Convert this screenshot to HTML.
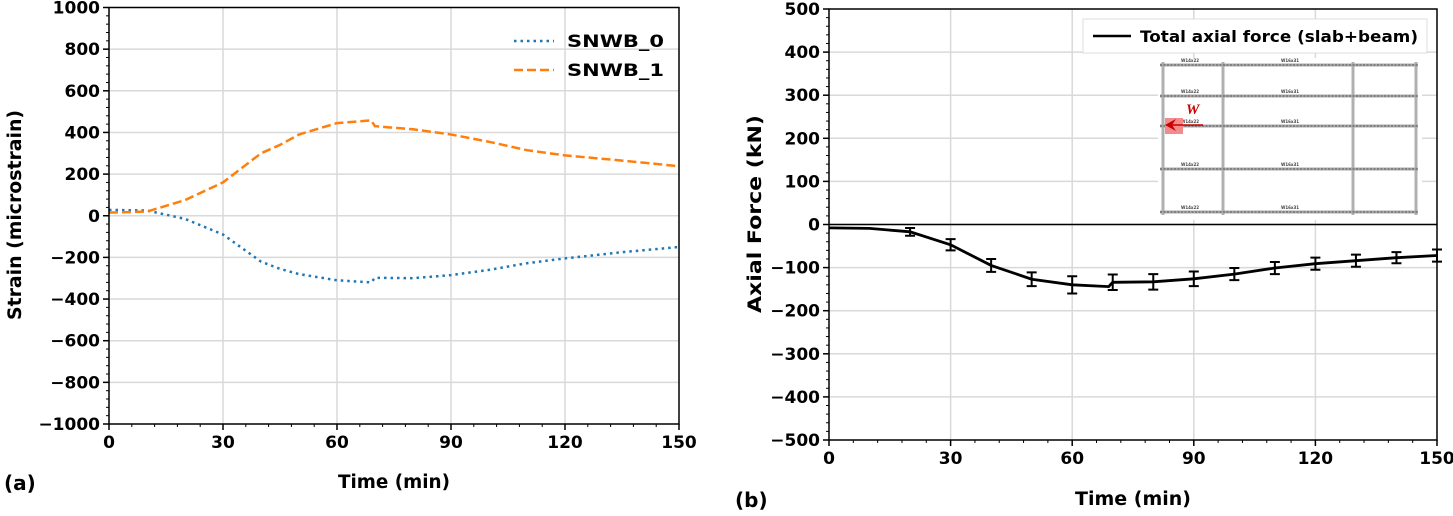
<!DOCTYPE html>
<html><head><meta charset="utf-8"><style>
body{margin:0;background:#fff;}
svg{display:block;font-family:"DejaVu Sans","Liberation Sans",sans-serif;}
svg text{font-weight:bold;}
</style></head><body>
<svg width="1453" height="516" viewBox="0 0 1453 516" xmlns="http://www.w3.org/2000/svg">
<g id="A"></g>
<g id="B"></g>
</svg>
<script>
// ---- Chart (a) data ----
const timeA = [0,10,20,30,40,45,50,60,69,70,80,90,100,110,120,135,150];
const snwb0 = [28,25,-15,-90,-220,-255,-280,-310,-320,-298,-300,-285,-260,-228,-205,-175,-150];
const snwb1 = [15,20,75,160,300,340,390,445,458,430,415,390,355,315,290,265,238];
const xTicksA = [0,30,60,90,120,150];
const yTicksA = [1000,800,600,400,200,0,-200,-400,-600,-800,-1000];
// ---- Chart (b) data ----
const timeB = [0,10,20,30,40,50,60,69,70,80,90,100,110,120,130,140,150];
const forceB = [-8,-9,-17,-47,-95,-127,-140,-144,-134,-133,-126,-115,-101,-91,-84,-77,-72];
const errT = [20,30,40,50,60,70,80,90,100,110,120,130,140,150];
const errMean = [-17,-47,-95,-127,-140,-134,-133,-126,-115,-101,-91,-84,-77,-72];
const errHalf = [9,13,15,16,20,18,18,17,14,14,14,14,13,14];
const xTicksB = [0,30,60,90,120,150];
const yTicksB = [500,400,300,200,100,0,-100,-200,-300,-400,-500];

const NS="http://www.w3.org/2000/svg";
function mk(p,tag,attrs,txt){const e=document.createElementNS(NS,tag);for(const k in attrs)e.setAttribute(k,attrs[k]);if(txt!==undefined)e.textContent=txt;p.appendChild(e);return e;}

function axes(g,x0,x1,y0,y1,xmax,ymin,ymax,xt,yt,minorStep,prefix){
  const sx=v=>x0+(v/xmax)*(x1-x0);
  const sy=v=>y1-(v-ymin)/(ymax-ymin)*(y1-y0);
  xt.forEach(v=>{if(v>0&&v<xmax){const l=mk(g,'line',{x1:sx(v),x2:sx(v),y1:y0,y2:y1,stroke:'#d9d9d9','stroke-width':1.5});

}});
  yt.forEach(v=>{if(v>ymin&&v<ymax){const l=mk(g,'line',{x1:x0,x2:x1,y1:sy(v),y2:sy(v),stroke:'#d9d9d9','stroke-width':1.5});

}});
  for(let v=ymin;v<=ymax;v+=minorStep){mk(g,'line',{x1:x0-3,x2:x0,y1:sy(v),y2:sy(v),stroke:'#000','stroke-width':1});}
  for(let v=0;v<=xmax;v+=6){mk(g,'line',{x1:sx(v),x2:sx(v),y1:y1,y2:y1+3,stroke:'#000','stroke-width':1});}
  yt.forEach(v=>{mk(g,'line',{x1:x0-6,x2:x0,y1:sy(v),y2:sy(v),stroke:'#000','stroke-width':1.5});
    const t=mk(g,'text',{x:x0-9,y:sy(v)+6,'text-anchor':'end','font-size':17,'font-weight':'bold'},String(v).replace('-','−'));
    
    });
  xt.forEach(v=>{mk(g,'line',{x1:sx(v),x2:sx(v),y1:y1,y2:y1+6,stroke:'#000','stroke-width':1.5});
    const t=mk(g,'text',{x:sx(v),y:y1+24,'text-anchor':'middle','font-size':17,'font-weight':'bold'},String(v));
    
    });
  return {sx,sy};
}
function pathD(xs,ys,sx,sy){return xs.map((x,i)=>(i?'L':'M')+sx(x).toFixed(1)+','+sy(ys[i]).toFixed(1)).join(' ');}

// Chart A
(function(){
  const g=document.getElementById('A');
  const x0=109,x1=679,y0=7.5,y1=424;
  const {sx,sy}=axes(g,x0,x1,y0,y1,150,-1000,1000,xTicksA,yTicksA,40,'a-');
  const p0=mk(g,'path',{d:pathD(timeA,snwb0,sx,sy),fill:'none',stroke:'#1f77b4','stroke-width':2.5,'stroke-dasharray':'2.5,4'});
  
  
  const p1=mk(g,'path',{d:pathD(timeA,snwb1,sx,sy),fill:'none',stroke:'#ff7f0e','stroke-width':2.5,'stroke-dasharray':'9,4'});
  
  
  mk(g,'rect',{x:x0,y:y0,width:x1-x0,height:y1-y0,fill:'none',stroke:'#000','stroke-width':1.5});
  const lg=mk(g,'g',{});
  
  
  mk(lg,'line',{x1:514,x2:554,y1:41,y2:41,stroke:'#1f77b4','stroke-width':2.5,'stroke-dasharray':'2.5,4'});
  mk(lg,'text',{x:567,y:47,'font-size':17,'font-weight':'bold',textLength:97,lengthAdjust:'spacingAndGlyphs'},'SNWB_0');
  mk(lg,'line',{x1:514,x2:554,y1:70,y2:70,stroke:'#ff7f0e','stroke-width':2.5,'stroke-dasharray':'9,4'});
  mk(lg,'text',{x:567,y:76,'font-size':17,'font-weight':'bold',textLength:97,lengthAdjust:'spacingAndGlyphs'},'SNWB_1');
  const xl=mk(g,'text',{x:338,y:488,'font-size':18.5,'font-weight':'bold',textLength:112,lengthAdjust:'spacingAndGlyphs'},'Time (min)');
  
  
  const yl=mk(g,'text',{x:0,y:0,'font-size':18.5,'font-weight':'bold',transform:'translate(21,320) rotate(-90)',textLength:210,lengthAdjust:'spacingAndGlyphs'},'Strain (microstrain)');
  
  
  const pl=mk(g,'text',{x:4,y:490,'font-size':20,'font-weight':'bold'},'(a)');
  
  
})();

// Chart B
(function(){
  const g=document.getElementById('B');
  const x0=829,x1=1437,y0=9,y1=440;
  const {sx,sy}=axes(g,x0,x1,y0,y1,150,-500,500,xTicksB,yTicksB,20,'b-');
  // inset floor plan
  const ins=mk(g,'g',{});
  
  
  mk(ins,'rect',{x:1158,y:58,width:264,height:162,fill:'#fff'});
  const cols=[1163,1223,1353,1416], rows=[65,96,126,169,212];
  cols.forEach(c=>mk(ins,'line',{x1:c,x2:c,y1:62,y2:215,stroke:'#b0b0b0','stroke-width':3}));
  rows.forEach(r=>{mk(ins,'line',{x1:1160,x2:1418,y1:r,y2:r,stroke:'#aaa','stroke-width':3});
    mk(ins,'line',{x1:1160,x2:1418,y1:r,y2:r,stroke:'#555','stroke-width':1,'stroke-dasharray':'2,1.5'});
    mk(ins,'text',{x:1190,y:r-3,'font-size':4,'font-weight':'normal','text-anchor':'middle',fill:'#444'},'W14x22');
    mk(ins,'text',{x:1290,y:r-3,'font-size':4,'font-weight':'normal','text-anchor':'middle',fill:'#444'},'W16x31');});
  mk(ins,'rect',{x:1165,y:118,width:18,height:16,fill:'#f28b8b'});
  mk(ins,'line',{x1:1168,x2:1203,y1:125,y2:125,stroke:'#c00','stroke-width':1.5});
  mk(ins,'path',{d:'M1165,125 L1176,119 L1172,125 L1176,131 Z',fill:'#c00'});
  mk(ins,'text',{x:1186,y:114,'font-size':15,'font-style':'italic','font-family':'Liberation Serif,serif',fill:'#c00'},'W');
  // zero line
  mk(g,'line',{x1:x0,x2:x1,y1:sy(0),y2:sy(0),stroke:'#000','stroke-width':1.5});
  const ln=mk(g,'path',{d:pathD(timeB,forceB,sx,sy),fill:'none',stroke:'#000','stroke-width':2.8});
  
  
  errT.forEach((t,i)=>{
    const e=mk(g,'path',{d:`M${sx(t)},${sy(errMean[i]-errHalf[i])} V${sy(errMean[i]+errHalf[i])} M${sx(t)-5},${sy(errMean[i]-errHalf[i])} h10 M${sx(t)-5},${sy(errMean[i]+errHalf[i])} h10`,stroke:'#000','stroke-width':2,fill:'none'});
    
    
  });
  mk(g,'rect',{x:x0,y:y0,width:x1-x0,height:y1-y0,fill:'none',stroke:'#000','stroke-width':1.5});
  const lg=mk(g,'g',{});
  
  
  mk(lg,'rect',{x:1083,y:19,width:344,height:34,fill:'#fff',stroke:'#ddd'});
  mk(lg,'line',{x1:1093,x2:1131,y1:36,y2:36,stroke:'#000','stroke-width':2.5});
  mk(lg,'text',{x:1140,y:42,'font-size':16,'font-weight':'bold',textLength:278,lengthAdjust:'spacingAndGlyphs'},'Total axial force (slab+beam)');
  const xl=mk(g,'text',{x:1075,y:505,'font-size':18.5,'font-weight':'bold',textLength:116,lengthAdjust:'spacingAndGlyphs'},'Time (min)');
  
  
  const yl=mk(g,'text',{x:0,y:0,'font-size':18.5,'font-weight':'bold',transform:'translate(761,313) rotate(-90)',textLength:198,lengthAdjust:'spacingAndGlyphs'},'Axial Force (kN)');
  
  
  const pl=mk(g,'text',{x:735,y:507,'font-size':20,'font-weight':'bold'},'(b)');
  
  
})();
</script>
</body></html>
